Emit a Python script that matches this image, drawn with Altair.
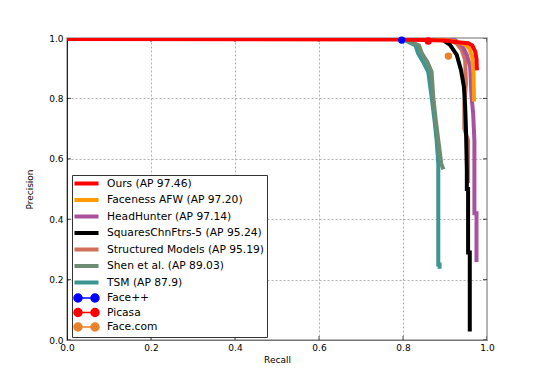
import altair as alt
import pandas as pd

# ---------------- data ----------------
series = ["Ours (AP 97.46)", "Faceness AFW (AP 97.20)", "HeadHunter (AP 97.14)",
          "SquaresChnFtrs-5 (AP 95.24)", "Structured Models (AP 95.19)",
          "Shen et al. (AP 89.03)", "TSM (AP 87.9)", "Face++", "Picasa", "Face.com"]
colors = ["#ff0000", "#ff9a00", "#a8529f", "#000000", "#d0705b",
          "#6d8c73", "#3b9692", "#0000ff", "#ff0000", "#e8822a"]

ours_r = [0.0, 0.80, 0.90, 0.93, 0.955, 0.965, 0.972, 0.975, 0.976]
ours_p = [0.997, 0.995, 0.992, 0.986, 0.983, 0.975, 0.955, 0.93, 0.893]

faceness_r = [0.0, 0.85, 0.92, 0.945, 0.958, 0.965, 0.968, 0.969]
faceness_p = [1.0, 0.999, 0.99, 0.98, 0.965, 0.935, 0.88, 0.79]

head_r = [0.0, 0.90, 0.92, 0.94, 0.952, 0.96, 0.963, 0.967, 0.970, 0.970, 0.975, 0.975]
head_p = [1.0, 1.0, 0.997, 0.977, 0.944, 0.905, 0.81, 0.75, 0.66, 0.42, 0.42, 0.258]

squares_r = [0.0, 0.80, 0.892, 0.912, 0.928, 0.938, 0.945, 0.948, 0.950, 0.952,
             0.952, 0.955, 0.955, 0.959, 0.959]
squares_p = [1.0, 0.999, 0.996, 0.977, 0.944, 0.894, 0.839, 0.773, 0.695, 0.563,
             0.50, 0.50, 0.29, 0.29, 0.028]

struct_r = [0.0, 0.80, 0.904, 0.928, 0.94, 0.948, 0.950, 0.946, 0.946, 0.955, 0.955]
struct_p = [1.0, 0.999, 0.996, 0.982, 0.96, 0.927, 0.85, 0.78, 0.70, 0.66, 0.52]

shen_r = [0.0, 0.79, 0.81, 0.838, 0.845, 0.858, 0.868, 0.872, 0.878, 0.884, 0.891, 0.896]
shen_p = [1.0, 0.998, 0.993, 0.975, 0.949, 0.921, 0.888, 0.806, 0.728, 0.662, 0.585, 0.565]

tsm_r = [0.0, 0.78, 0.805, 0.83, 0.836, 0.848, 0.86, 0.868, 0.875, 0.88, 0.884,
         0.884, 0.887, 0.887]
tsm_p = [1.0, 0.998, 0.993, 0.975, 0.949, 0.921, 0.888, 0.806, 0.728, 0.662, 0.585,
         0.25, 0.25, 0.236]

point_names = ["Face++", "Picasa", "Face.com"]
point_colors = ["#0000ff", "#ff0000", "#e8822a"]
point_recall = [0.797, 0.860, 0.908]
point_precision = [0.993, 0.990, 0.940]

ticks = [0.0, 0.2, 0.4, 0.6, 0.8, 1.0]

# ---------------- tables ----------------
curves = [
    (6, tsm_r, tsm_p),
    (5, shen_r, shen_p),
    (4, struct_r, struct_p),
    (3, squares_r, squares_p),
    (2, head_r, head_p),
    (1, faceness_r, faceness_p),
    (0, ours_r, ours_p),
]

pts_df = pd.DataFrame({"series": point_names, "recall": point_recall,
                       "precision": point_precision})

LINE = "M-2.67,0H2.67"
PT = ("M-1.89,0H1.89 "
      "M-2.78,0A0.89,0.89 0 1,0 -1.0,0A0.89,0.89 0 1,0 -2.78,0Z "
      "M1.0,0A0.89,0.89 0 1,0 2.78,0A0.89,0.89 0 1,0 1.0,0Z")
shapes = [LINE] * 7 + [PT] * 3
widths = [4] * 7 + [1.5] * 3

color_scale = alt.Scale(domain=series, range=colors)
width_scale = alt.Scale(domain=series, range=widths, type="ordinal")
shape_scale = alt.Scale(domain=series, range=shapes)

xs = alt.Scale(domain=[0, 1], nice=False, zero=False)
ys = alt.Scale(domain=[0, 1], nice=False, zero=False)

x_enc = alt.X("recall:Q", scale=xs,
              axis=alt.Axis(title="Recall", values=ticks, format=".1f", ticks=False,
                            labelFlush=False, labelPadding=3, titlePadding=3,
                            domainColor="#777777", grid=True, gridDash=[2, 2],
                            gridColor="#b0b0b0", labelOverlap=False))
y_enc = alt.Y("precision:Q", scale=ys,
              axis=alt.Axis(title="Precision", values=ticks, format=".1f", ticks=False,
                            labelFlush=False, labelPadding=4, titlePadding=14,
                            domainColor="#222222", grid=True, gridDash=[2, 2],
                            gridColor="#b0b0b0", labelOverlap=False))

layers = []

# inward tick marks
xt_df = pd.DataFrame([{"recall": t, "precision": e} for t in ticks for e in [0.0, 1.0]])
yt_df = pd.DataFrame([{"recall": e, "precision": t} for t in ticks for e in [0.0, 1.0]])
layers.append(alt.Chart(xt_df).mark_tick(orient="vertical", size=8, thickness=1,
                                         color="black", clip=True)
              .encode(x=x_enc, y=y_enc))
layers.append(alt.Chart(yt_df).mark_tick(orient="horizontal", size=8, thickness=1,
                                         color="black", clip=True)
              .encode(x=x_enc, y=y_enc))

for k, r, p in curves:
    d = pd.DataFrame({"series": series[k], "recall": r, "precision": p,
                      "i": list(range(len(r)))})
    layers.append(
        alt.Chart(d).mark_line(clip=True, color=colors[k], strokeWidth=4)
        .encode(x=x_enc, y=y_enc, order="i:Q")
    )

layers.append(
    alt.Chart(pts_df).mark_point(filled=True, size=55, opacity=1, strokeWidth=1)
    .encode(x=x_enc, y=y_enc,
            color=alt.Color("series:N",
                            scale=alt.Scale(domain=point_names, range=point_colors),
                            legend=None))
)

leg = alt.Legend(title=None, orient="none", legendX=5, legendY=137, padding=2,
                 strokeColor="#333333", fillColor="white", cornerRadius=0,
                 symbolSize=81, symbolOffset=6, labelOffset=14, rowPadding=-0.5,
                 labelFont="DejaVu Sans", labelFontSize=10.7, labelColor="black",
                 labelLimit=0, symbolLimit=0, symbolOpacity=1)

layers.append(
    alt.Chart(pts_df).transform_filter("false").mark_point(filled=True, opacity=1)
    .encode(x=x_enc, y=y_enc,
            fill=alt.Fill("series:N", scale=color_scale, legend=leg),
            stroke=alt.Stroke("series:N", scale=color_scale, legend=leg),
            shape=alt.Shape("series:N", scale=shape_scale, legend=leg),
            strokeWidth=alt.StrokeWidth("series:N", scale=width_scale, legend=leg))
)

chart = alt.layer(*layers).properties(
    width=420, height=302,
    autosize=alt.AutoSizeParams(type="none"),
    padding={"left": 59, "top": 30, "right": 45, "bottom": 30},
).configure_view(
    stroke="#a0a0a0", strokeWidth=1.5
).configure_axis(
    labelFont="DejaVu Sans", labelFontSize=9, labelColor="black",
    titleFont="DejaVu Sans", titleFontSize=9, titleFontWeight="normal", titleColor="black",
)

chart.save("out.html", embed_options={"renderer": "svg", "actions": False})
